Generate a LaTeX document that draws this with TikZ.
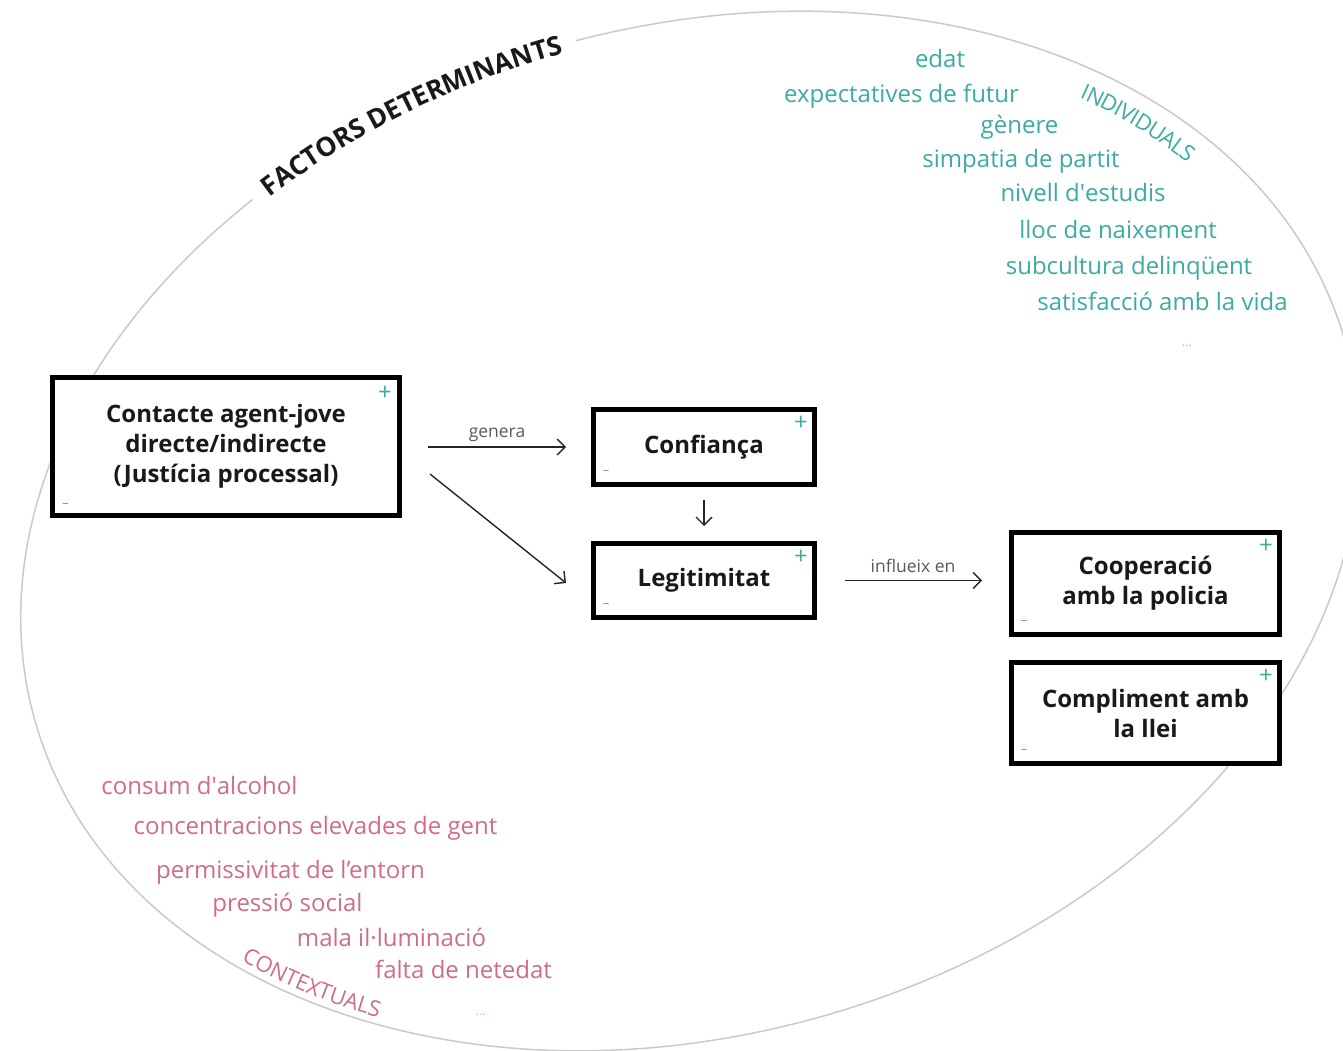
\documentclass[tikz,border=0pt]{standalone}
\usepackage{fontspec}
\setmainfont{Open Sans}
\usetikzlibrary{arrows.meta,decorations.text,calc}
\definecolor{indcol}{RGB}{60,172,160}
\definecolor{ctxcol}{RGB}{206,110,134}
\definecolor{ringcol}{RGB}{202,202,202}
\definecolor{lblcol}{RGB}{90,90,90}
\definecolor{minuscol}{RGB}{150,150,150}
\begin{document}
\begin{tikzpicture}[x=1pt,y=-1pt,
  box/.style={draw=black, line width=5pt, fill=white, align=center, inner sep=0pt,
    font=\fontsize{24}{30}\selectfont\bfseries, text=black!90},
  plusmark/.style={text=indcol, font=\fontsize{24}{24}\selectfont, inner sep=0pt},
  minusmark/.style={text=minuscol, font=\fontsize{13}{13}\selectfont, inner sep=0pt},
  arr/.style={draw=black!85, line width=1.4pt, -{Straight Barb[length=8pt,width=16pt]}},
  lbl/.style={text=lblcol, font=\fontsize{17.5}{17.5}\selectfont, inner sep=0pt, anchor=base},
  ind/.style={text=indcol, font=\fontsize{24}{24}\selectfont, inner sep=0pt, anchor=base},
  ctx/.style={text=ctxcol, font=\fontsize{24}{24}\selectfont, inner sep=0pt, anchor=base},
]
\useasboundingbox (0,0) rectangle (1343,1051);
\clip (0,0) rectangle (1343,1051);
\fill[white] (0,0) rectangle (1343,1051);

% ring of factors
\begin{scope}[shift={(690pt,-531pt)}, rotate=16.5]
  \draw[ringcol, line width=1.5pt] (87.5:682pt and 503pt)
    arc[start angle=87.5, end angle=-241.5, x radius=682pt, y radius=503pt];
  \path[decorate, decoration={text along path, text align=center, raise=-9pt,
      text={|\fontsize{26.5}{26.5}\selectfont\bfseries\color{black!90}|FACTORS DETERMINANTS}}]
    (118.5:682pt and 503pt) arc[start angle=118.5, end angle=87.5, x radius=682pt, y radius=503pt];
  \path[decorate, decoration={text along path, text align=center, raise=-31pt,
      text={|\fontsize{22}{22}\selectfont\color{indcol}|INDIVIDUALS}}]
    (48.5:682pt and 503pt) arc[start angle=48.5, end angle=18.5, x radius=682pt, y radius=503pt];
  \path[decorate, decoration={text along path, text align=center, raise=7pt,
      text={|\fontsize{22}{22}\selectfont\color{ctxcol}|CONTEXTUALS}}]
    (207:682pt and 503pt) arc[start angle=207, end angle=237, x radius=682pt, y radius=503pt];
\end{scope}

% individual factors
\node[ind] (i1) at (940,68) {edat};
\node[ind] (i2) at (901.5,103) {expectatives de futur};
\node[ind] (i3) at (1019.5,134) {gènere};
\node[ind] (i4) at (1021,168) {simpatia de partit};
\node[ind] (i5) at (1083,201) {nivell d\textquotesingle estudis};
\node[ind] (i6) at (1118,238) {lloc de naixement};
\node[ind] (i7) at (1129,274) {subcultura delinqüent};
\node[ind] (i8) at (1162.5,310) {satisfacció amb la vida};
\node[ind, text=indcol!55, font=\fontsize{13}{13}\selectfont] (i9) at (1187,346) {...};

% contextual factors
\node[ctx] (c1) at (199.5,794) {consum d\textquotesingle alcohol};
\node[ctx] (c2) at (315.5,834) {concentracions elevades de gent};
\node[ctx] (c3) at (290.5,878) {permissivitat de l’entorn};
\node[ctx] (c4) at (287.5,911) {pressió social};
\node[ctx] (c5) at (391.5,946) {mala il·luminació};
\node[ctx] (c6) at (463.5,978) {falta de netedat};
\node[ctx, text=ctxcol!55, font=\fontsize{13}{13}\selectfont] (c7) at (481,1015) {...};

% boxes
\node[box, minimum width=347pt, minimum height=138pt] (contact) at (226,446.5)
  {Contacte agent-jove\\directe/indirecte\\(Justícia processal)};
\node[box, minimum width=221pt, minimum height=75pt] (conf) at (704,447) {Confiança};
\node[box, minimum width=221pt, minimum height=74pt] (legit) at (704,580.5) {Legitimitat};
\node[box, minimum width=268pt, minimum height=102pt] (coop) at (1145.5,583.5)
  {Cooperació\\amb la policia};
\node[box, minimum width=268pt, minimum height=101pt] (compl) at (1145.5,713)
  {Compliment amb\\la llei};

\node[plusmark] (contact-plus) at ([shift={(-17,18)}]contact.north east) {+};
\node[minusmark] (contact-minus) at ([shift={(15.5,-12.5)}]contact.south west) {--};
\foreach \n in {conf,legit,coop,compl}{
  \node[plusmark] (\n-plus) at ([shift={(-16,16)}]\n.north east) {+};
  \node[minusmark] (\n-minus) at ([shift={(15,-14)}]\n.south west) {--};
}

% connectors
\draw[arr, shorten <=26pt, shorten >=25pt] (contact.east |- conf.west) -- (conf.west);
\node[lbl] (genera) at (497,437) {genera};
\draw[arr] ([shift={(28,27.5)}]contact.east) -- ([shift={(-25,2.5)}]legit.west);
\draw[arr, shorten <=13pt, shorten >=15pt] (conf.south) -- (legit.north);
\draw[arr, shorten <=28pt, shorten >=27pt] (legit.east) -- (legit.east -| coop.west);
\node[lbl] (influeix) at (913,572) {influeix en};
\end{tikzpicture}
\end{document}
